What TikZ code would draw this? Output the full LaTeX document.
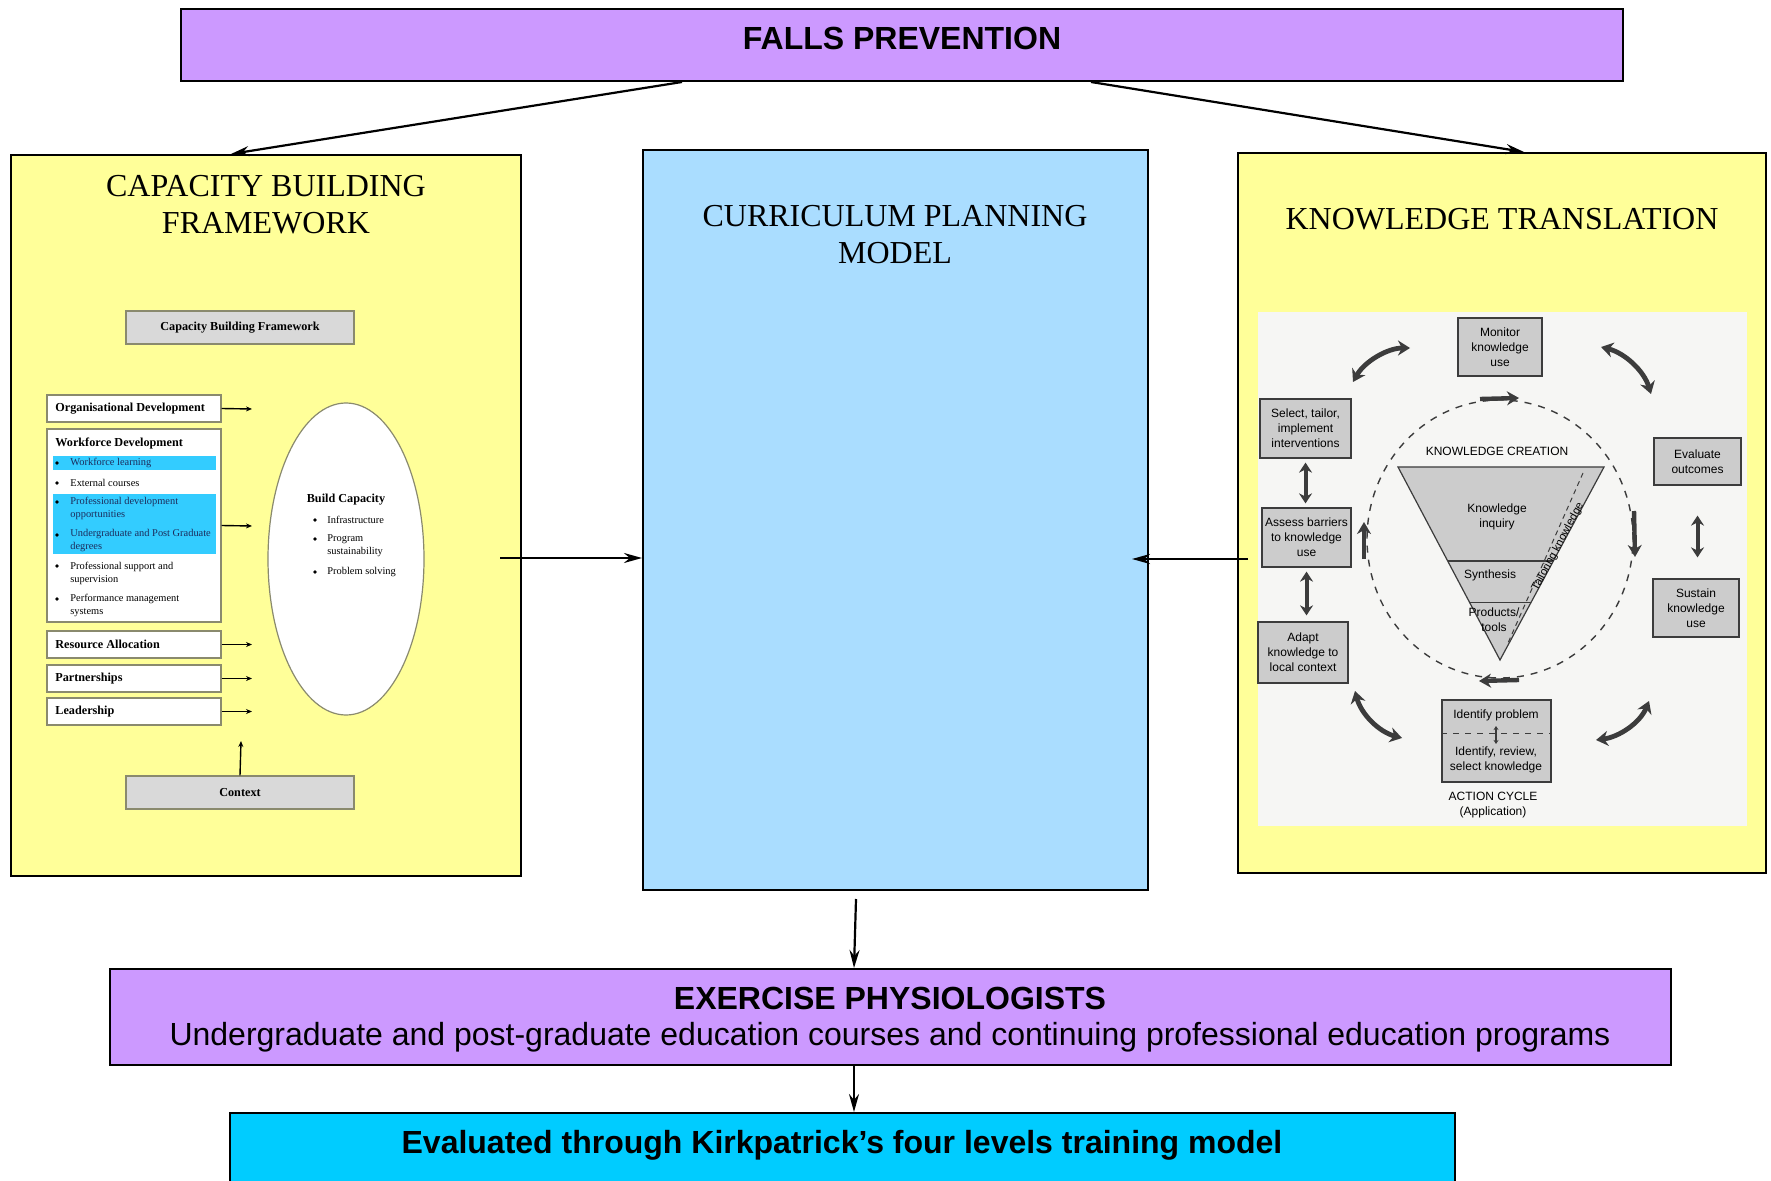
\documentclass[tikz,border=0pt]{standalone}
\usepackage{fontspec}
\setmainfont{Liberation Serif}
\setsansfont{Liberation Sans}
\usetikzlibrary{arrows.meta,calc,fit,shapes.geometric}
\definecolor{purp}{HTML}{CC99FF}
\definecolor{yel}{HTML}{FFFF99}
\definecolor{lblue}{HTML}{AADDFF}
\definecolor{cyanb}{HTML}{00CCFF}
\definecolor{hl}{HTML}{33CCFF}
\definecolor{hltext}{HTML}{1C2C5C}
\definecolor{ktgray}{HTML}{CCCCCC}
\definecolor{ktdark}{HTML}{3C3C3C}
\definecolor{cbgray}{HTML}{D9D9D9}
\definecolor{cbline}{HTML}{8A8A6E}
\definecolor{ktbg}{HTML}{F6F6F4}
\tikzset{
  bigbox/.style={draw=black,line width=1pt,inner sep=0pt},
  mainarr/.style={line width=1.1pt,-{Stealth[length=9pt,width=5pt]}},
  maintitle/.style={font=\fontsize{16}{18.5}\selectfont,align=center,inner sep=0pt},
  sanstitle/.style={font=\sffamily\bfseries\fontsize{16}{19}\selectfont,inner sep=0pt},
  cbheadbox/.style={draw=cbline,line width=0.6pt,fill=cbgray,inner sep=0pt},
  cbitem/.style={draw=cbline,line width=0.6pt,fill=white,inner sep=0pt},
  cbbold/.style={font=\bfseries\fontsize{6.1}{7}\selectfont,anchor=west,inner sep=0pt},
  cbtext/.style={font=\fontsize{5.2}{6.5}\selectfont,anchor=west,align=left,inner sep=0pt},
  smallarr/.style={line width=0.7pt,-{Stealth[length=3pt,width=2.5pt]}},
  ktbox/.style={draw=ktdark,line width=0.6pt,fill=ktgray,inner sep=0pt},
  kttext/.style={align=center,inner sep=0pt,font=\sffamily\fontsize{6}{7.5}\selectfont},
  dblarr/.style={draw=ktdark,line width=2pt,{Stealth[length=5pt,width=6.5pt]}-{Stealth[length=5pt,width=6.5pt]}},
  curvarr/.style={draw=ktdark,line width=2.4pt,{Stealth[length=6pt,width=7.5pt]}-{Stealth[length=6pt,width=7.5pt]}},
  cyclearr/.style={draw=ktdark,line width=2.2pt,-{Stealth[length=6pt,width=7pt]}}
}
\begin{document}
\begin{tikzpicture}[x=0.5pt,y=-0.5pt]
\fill[white] (0,0) rectangle (1771,1181);
\useasboundingbox (0,0) rectangle (1771,1181);

% ---------- main boxes ----------
\node[bigbox,fill=purp,fit={(181,9)(1623,81)}] (falls) {};
\node[sanstitle] (fallst) at (902,38) {FALLS PREVENTION};
\node[bigbox,fill=yel,fit={(11,155)(521,876)}] (cbf) {};
\node[maintitle] (cbft) at (266,205) {CAPACITY BUILDING\\FRAMEWORK};
\node[bigbox,fill=lblue,fit={(643,150)(1148,890)}] (cpm) {};
\node[maintitle] (cpmt) at (895,235) {CURRICULUM PLANNING\\MODEL};
\node[bigbox,fill=yel,fit={(1238,153)(1766,873)}] (kt) {};
\node[maintitle] (ktt) at (1502,219) {KNOWLEDGE TRANSLATION};
\node[bigbox,fill=purp,fit={(110,969)(1671,1065)}] (ex) {};
\node[sanstitle] (ext1) at (890,998) {EXERCISE PHYSIOLOGISTS};
\node[inner sep=0pt,font=\sffamily\fontsize{16}{19}\selectfont] (ext2) at (890,1037) {Undergraduate and post-graduate education courses and continuing professional education programs};
\node[bigbox,fill=cyanb,fit={(230,1113)(1455,1192)}] (kirk) {};
\node[sanstitle] (kirkt) at (842,1145) {Evaluated through Kirkpatrick’s four levels training model};

% ---------- main arrows ----------
\draw[mainarr] ($(falls.south west)+(502,0)$) -- ($(cbf.north west)+(221,0)$);
\draw[mainarr] ($(falls.south west)+(911,0)$) -- ($(kt.north west)+(287,0)$);
\draw[mainarr] ($(cbf.east)+(-22,42.5)$) -- ($(cpm.west)+(0,38)$);
\draw[mainarr] ($(kt.west)+(11,46)$) -- ($(cpm.east)+(-17,39)$);
\draw[mainarr] ($(cpm.south)+(-39.5,8)$) -- ($(ex.north)+(-36.5,0)$);
\draw[mainarr] ($(ex.south)+(-36.5,0)$) -- ($(kirk.north)+(11.5,0)$);

% ---------- capacity building framework figure ----------
\node[cbheadbox,fit={(126,311)(354,344)}] (cbfh) {};
\node[cbbold,anchor=center] (cbfht) at (cbfh.center) {Capacity Building Framework};
\node[cbitem,fit={(47,395)(221,422)}] (org) {};
\node[cbbold] (orgt) at (55,409) {Organisational Development};
\node[cbitem,fit={(47,429)(221,622)}] (wf) {};
\fill[hl] (53,456) rectangle (216,470);
\fill[hl] (53,494) rectangle (216,554);
\node[cbbold] (wft) at (55,444) {Workforce Development};
\node[cbtext,text=hltext] (w1) at (70,463) {Workforce learning};
\node[cbtext] (w2) at (70,483) {External courses};
\node[cbtext,text=hltext] (w3) at (70,508.5) {Professional development\\opportunities};
\node[cbtext,text=hltext] (w4) at (70,541) {Undergraduate and Post Graduate\\degrees};
\node[cbtext] (w5) at (70,573) {Professional support and\\supervision};
\node[cbtext] (w6) at (70,605.5) {Performance management\\systems};
\foreach \yy in {463,483,502,535,566,599} \fill (57,\yy) circle (0.9pt);
\node[cbitem,fit={(47,631)(221,658)}] (ra) {};
\node[cbbold] (rat) at (55,644.5) {Resource Allocation};
\node[cbitem,fit={(47,665)(221,692)}] (pa) {};
\node[cbbold] (pat) at (55,678.5) {Partnerships};
\node[cbitem,fit={(47,698)(221,725)}] (lead) {};
\node[cbbold] (leadt) at (55,711.5) {Leadership};
\node[cbheadbox,fit={(126,776)(354,809)}] (ctx) {};
\node[cbbold,anchor=center] (ctxt) at (ctx.center) {Context};
\node[draw=cbline,line width=0.6pt,fill=white,ellipse,minimum width=78pt,minimum height=156pt,inner sep=0pt] (bc) at (346,559) {};
\node[cbbold,anchor=center] (bct) at (346,500) {Build Capacity};
\node[cbtext] (b1) at (327,520) {Infrastructure};
\node[cbtext] (b2) at (327,545.5) {Program\\sustainability};
\node[cbtext] (b3) at (327,572) {Problem solving};
\foreach \yy in {520,539,572} \fill (315,\yy) circle (0.9pt);
\coordinate (orgE) at (252,409);
\coordinate (wfE) at (252,526);
\coordinate (raE) at (252,644.5);
\coordinate (paE) at (252,678.5);
\coordinate (leadE) at (252,711.5);
\coordinate (ctxN) at (241,741);
\draw[smallarr] (org.east) -- (orgE);
\draw[smallarr] (wf.east) -- (wfE);
\draw[smallarr] (ra.east) -- (raE);
\draw[smallarr] (pa.east) -- (paE);
\draw[smallarr] (lead.east) -- (leadE);
\draw[smallarr] (ctx.north) -- (ctxN);

% ---------- knowledge translation figure ----------
\fill[ktbg] (1258,312) rectangle (1747,826);
\node[ktbox,fit={(1458,318)(1542,376)}] (mon) {};
\node[kttext] (mont) at (mon.center) {Monitor\\knowledge\\use};
\node[ktbox,fit={(1260,399)(1351,458)}] (sel) {};
\node[kttext] (selt) at (sel.center) {Select, tailor,\\implement\\interventions};
\node[ktbox,fit={(1654,438)(1741,485)}] (eva) {};
\node[kttext] (evat) at (eva.center) {Evaluate\\outcomes};
\node[ktbox,fit={(1262,508)(1351,567)}] (ass) {};
\node[kttext] (asst) at (ass.center) {Assess barriers\\to knowledge\\use};
\node[ktbox,fit={(1258,622)(1348,683)}] (ada) {};
\node[kttext] (adat) at (ada.center) {Adapt\\knowledge to\\local context};
\node[ktbox,fit={(1653,579)(1739,637)}] (sus) {};
\node[kttext] (sust) at (sus.center) {Sustain\\knowledge\\use};
\node[ktbox,fit={(1442,700)(1551,782)}] (idp) {};
\node[kttext] (idp1) at (1496,715) {Identify problem};
\node[kttext] (idp2) at (1496,760) {Identify, review,\\select knowledge};
\draw[ktdark,dashed,line width=0.5pt] (idp.west |- 0,733) -- (idp.east |- 0,733);
\draw[ktdark,line width=0.6pt,{Stealth[length=2pt,width=2.5pt]}-{Stealth[length=2pt,width=2.5pt]}] (1496,726) -- (1496,744);
\node[kttext] (act) at (1493,805) {ACTION CYCLE\\(Application)};

\draw[dblarr,shorten <=2pt,shorten >=2pt] (sel.south) -- (sel.south |- ass.north);
\draw[dblarr,shorten <=2pt,shorten >=3pt] (ass.south) -- (ass.south |- ada.north);
\draw[dblarr,shorten <=15pt,shorten >=10.5pt] (eva.south) -- (eva.south |- sus.north);

% knowledge creation funnel
\node[ktdark,dashed,draw,line width=0.7pt,ellipse,minimum width=133pt,minimum height=139pt,inner sep=0pt,dash pattern=on 3.5pt off 3.5pt] (kc) at (1500,539) {};
\coordinate (tl) at (1398,467);
\coordinate (tr) at (1604,467);
\coordinate (ap) at (1500,660);
\filldraw[fill=ktgray,draw=ktdark,line width=0.6pt] (tl) -- (tr) -- (ap) -- cycle;
\draw[ktdark,line width=0.6pt] ($(tl)!0.487!(ap)$) -- ($(tr)!0.487!(ap)$);
\draw[ktdark,line width=0.6pt] ($(tl)!0.70!(ap)$) -- ($(tr)!0.70!(ap)$);
\draw[ktdark,dashed,line width=0.5pt,dash pattern=on 2.5pt off 2pt] (1583,473) -- (1508,643);
\node[kttext] (kct) at (1497,451) {KNOWLEDGE CREATION};
\node[kttext] (kinq) at (1497,517) {Knowledge\\inquiry};
\node[kttext] (syn) at (1490,575) {Synthesis};
\node[kttext] (prod) at (1494,620) {Products/\\tools};
\node[kttext,rotate=62,font=\sffamily\fontsize{5.6}{6.5}\selectfont] (tail) at (1558,547) {Tailoring knowledge};

% arrows on the dashed circle
\draw[cyclearr] (1480,399) -- (1519,398);
\draw[cyclearr] (1634,511) -- (1635,557);
\draw[cyclearr] (1519,680) -- (1479,681);
\draw[cyclearr] (1364,559) -- (1364,522);

% curved double arrows
\coordinate (q1a) at (1353,382); \coordinate (q1b) at (1410,348);
\coordinate (q2a) at (1601,347); \coordinate (q2b) at (1651,394);
\coordinate (q3a) at (1355,691); \coordinate (q3b) at (1402,738);
\coordinate (q4a) at (1596,740); \coordinate (q4b) at (1649,701);
\draw[curvarr] (q1a) .. controls (1364,362) and (1387,348) .. (q1b);
\draw[curvarr] (q2a) .. controls (1625,353) and (1644,371) .. (q2b);
\draw[curvarr] (q3a) .. controls (1361,714) and (1379,732) .. (q3b);
\draw[curvarr] (q4a) .. controls (1619,737) and (1640,723) .. (q4b);
\end{tikzpicture}
\end{document}
